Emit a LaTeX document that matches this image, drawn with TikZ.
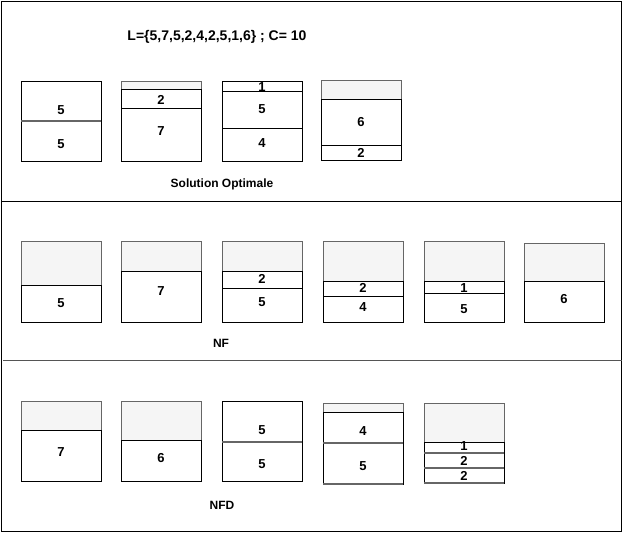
\documentclass[tikz,border=0pt]{standalone}
\usepackage{fontspec}
\setmainfont{Liberation Sans}
\definecolor{emptyfill}{HTML}{F5F5F5}
\definecolor{emptyline}{HTML}{666666}
\definecolor{rowline}{HTML}{555555}
\begin{document}
\begin{tikzpicture}[x=1pt,y=-1pt,line width=1pt,
  empty/.style={draw=emptyline,fill=emptyfill},
  item/.style={draw=black,fill=white},
  num/.style={font=\bfseries\fontsize{13}{15}\selectfont,inner sep=0pt},
  caption/.style={font=\bfseries\fontsize{12}{14}\selectfont,inner sep=0pt}]
\useasboundingbox (0,0) rectangle (624,533);
\draw (1.5,1.5) rectangle (621.5,531);
\draw (1.5,201) -- (621.5,201);
\draw [rowline] (3,360.5) -- (621.5,360.5);

\node[font=\bfseries\fontsize{14}{16}\selectfont,inner sep=0pt] (title) at (217,37) {L=\{5,7,5,2,4,2,5,1,6\} ; C= 10};

\draw [item] (21,81) rectangle (101,121);
\draw [item] (21,121) rectangle (101,161);
\draw [emptyline,line width=1.5pt] (21,121) -- (101,121);
\node[num] (o1a) at (61,110) {5};
\node[num] (o1b) at (61,144) {5};

\draw [empty] (121,81) rectangle (201,89);
\draw [item] (121,89) rectangle (201,108);
\draw [item] (121,108) rectangle (201,161);
\node[num] (o2a) at (161,100) {2};
\node[num] (o2b) at (161,131) {7};

\draw [item] (222,81) rectangle (302,91);
\draw [item] (222,91) rectangle (302,128);
\draw [item] (222,128) rectangle (302,161);
\node[num] (o3a) at (262,87) {1};
\node[num] (o3b) at (262,109) {5};
\node[num] (o3c) at (262,143) {4};

\draw [empty] (321,80) rectangle (401,99);
\draw [item] (321,99) rectangle (401,145);
\draw [item] (321,145) rectangle (401,160);
\node[num] (o4a) at (361,122) {6};
\node[num] (o4b) at (361,153) {2};

\node[caption] (opt) at (222,184) {Solution Optimale};

\draw [empty] (21,241) rectangle (101,285);
\draw [item] (21,285) rectangle (101,322);
\node[num] (nf1a) at (61,303) {5};

\draw [empty] (121,241) rectangle (201,271);
\draw [item] (121,271) rectangle (201,322);
\node[num] (nf2a) at (161,291) {7};

\draw [empty] (222,241) rectangle (302,271);
\draw [item] (222,271) rectangle (302,288);
\draw [item] (222,288) rectangle (302,322);
\node[num] (nf3a) at (262,279) {2};
\node[num] (nf3b) at (262,302) {5};

\draw [empty] (323,241) rectangle (403,281);
\draw [item] (323,281) rectangle (403,296);
\draw [item] (323,296) rectangle (403,322);
\node[num] (nf4a) at (363,288) {2};
\node[num] (nf4b) at (363,307) {4};

\draw [empty] (424,241) rectangle (504,281);
\draw [item] (424,281) rectangle (504,293);
\draw [item] (424,293) rectangle (504,322);
\node[num] (nf5a) at (464,288) {1};
\node[num] (nf5b) at (464,309) {5};

\draw [empty] (524,243) rectangle (604,281);
\draw [item] (524,281) rectangle (604,322);
\node[num] (nf6a) at (564,299) {6};

\node[caption] (nf) at (221,343) {NF};

\draw [empty] (21,401) rectangle (101,430);
\draw [item] (21,430) rectangle (101,481);
\node[num] (nfd1a) at (61,452) {7};

\draw [empty] (121,401) rectangle (201,440);
\draw [item] (121,440) rectangle (201,481);
\node[num] (nfd2a) at (161,458) {6};

\draw [item] (222,401) rectangle (302,442);
\draw [item] (222,442) rectangle (302,481);
\draw [emptyline,line width=1.5pt] (222,442) -- (302,442);
\node[num] (nfd3a) at (262,430) {5};
\node[num] (nfd3b) at (262,464) {5};

\draw [empty] (323,403) rectangle (403,412);
\draw [item] (323,412) rectangle (403,443);
\draw [item] (323,443) rectangle (403,484);
\draw [emptyline,line width=1.5pt] (323,443) -- (403,443);
\draw [emptyline,line width=1.5pt] (323,484) -- (403,484);
\node[num] (nfd4a) at (363,431) {4};
\node[num] (nfd4b) at (363,466) {5};

\draw [empty] (424,403) rectangle (504,442);
\draw [item] (424,442) rectangle (504,453);
\draw [item] (424,453) rectangle (504,468);
\draw [item] (424,468) rectangle (504,483);
\draw [emptyline,line width=1.5pt] (424,453) -- (504,453);
\draw [emptyline,line width=1.5pt] (424,468) -- (504,468);
\draw [emptyline,line width=1.5pt] (424,483) -- (504,483);
\node[num] (nfd5a) at (464,446) {1};
\node[num] (nfd5b) at (464,461) {2};
\node[num] (nfd5c) at (464,476) {2};

\node[caption] (nfd) at (222,505) {NFD};
\end{tikzpicture}
\end{document}
